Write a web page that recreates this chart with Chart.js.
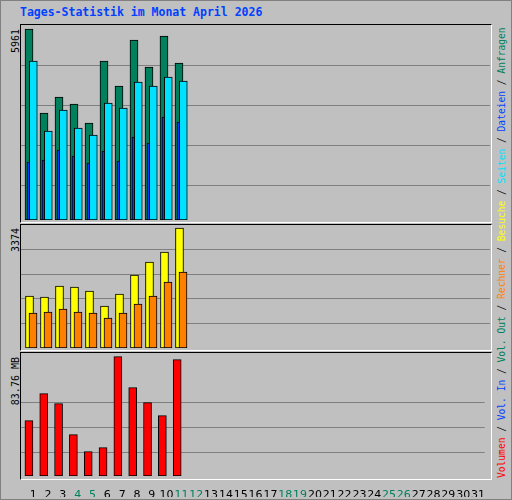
<!DOCTYPE html>
<html><head><meta charset="utf-8">
<script src="https://cdn.jsdelivr.net/npm/chart.js@4"></script>
<style>
body{margin:0;background:#c0c0c0;}
#frame{position:absolute;left:0;top:0;width:510px;height:498px;border:1px solid #808080;background:#c0c0c0;}
.panel{position:absolute;border-top:1px solid #000;border-left:1px solid #000;border-bottom:1px solid #fff;border-right:1px solid #fff;box-sizing:border-box;}
canvas{position:absolute;}
.rot{position:absolute;transform:rotate(-90deg);transform-origin:0 0;white-space:nowrap;font-family:'DejaVu Sans Mono',monospace;font-size:10px;line-height:10px;}
#title{position:absolute;left:20px;top:5px;font:bold 11.5px 'DejaVu Sans Mono',monospace;color:#0040ff;}
</style></head><body>
<div id="frame"></div>
<div id="title">Tages-Statistik im Monat April 2026</div>
<div class="panel" style="left:20px;top:24px;width:472px;height:199px"></div>
<div class="panel" style="left:20px;top:224px;width:472px;height:127px"></div>
<div class="panel" style="left:20px;top:352px;width:472px;height:128px"></div>
<canvas id="c1" style="left:21px;top:25px;width:469px;height:195px" width="469" height="195"></canvas>
<canvas id="c2" style="left:21px;top:225px;width:469px;height:123px" width="469" height="123"></canvas>
<canvas id="c3" style="left:21px;top:353px;width:469px;height:144px" width="469" height="144"></canvas>
<div class="rot" style="left:11px;top:89px;width:60px;text-align:right">5961</div>
<div class="rot" style="left:11px;top:288px;width:60px;text-align:right">3374</div>
<div class="rot" style="left:11px;top:417px;width:60px;text-align:right">83.76 MB</div>
<div class="rot" id="legend" style="left:497px;top:478px;font-size:9.6px"></div>
<script>
const days=[1,2,3,4,5,6,7,8,9,10,11,12,13,14,15,16,17,18,19,20,21,22,23,24,25,26,27,28,29,30,31];
const dayLabels=days.map(String);
const weekend=[4,5,11,12,18,19,25,26];
const hits=[5961,3339,3839,3620,3027,4962,4182,5618,4775,5742,4900];
const files=[4962,2778,3433,2871,2653,3652,3495,4307,4182,4463,4338];
const pages=[1810,1873,2185,1997,1779,2154,1841,2590,2403,3215,3059];
const visits=[1462,1434,1743,1715,1603,1181,1518,2053,2418,2699,3374];
const sites=[984,1012,1097,1012,984,844,984,1237,1462,1856,2137];
const volume=[38.9,57.8,50.8,29.0,17.1,19.9,83.76,62.0,51.5,42.4,81.7];
const grid1=[1083,2331,3580,4828], grid2=[675,1378,2081,2784], grid3=[16.4,34.0,51.5];

const legendParts=[["Volumen","#ff0000"],[" / ","#000"],["Vol. In","#0040ff"],[" / ","#000"],["Vol. Out","#00805c"],[" / ","#000"],["Rechner","#ff8000"],[" / ","#000"],["Besuche","#ffff00"],[" / ","#000"],["Seiten","#00e0ff"],[" / ","#000"],["Dateien","#0040ff"],[" / ","#000"],["Anfragen","#00805c"]];
document.getElementById('legend').innerHTML=legendParts.map(p=>`<span style="color:${p[1]}">${p[0]}</span>`).join('');

const xmin=0.18,xmax=31.45;
function ds(vals,off,color,th,order){return {data:vals.map((v,i)=>({x:days[i]+off/15,y:v})),backgroundColor:color,borderColor:'#000',borderWidth:1,borderSkipped:false,barThickness:th,order:order,grouped:false};}
function mk(id,datasets,max,grid,showX){
 const x={type:'linear',min:xmin,max:xmax,offset:false,display:showX,grid:{display:false},border:{display:false},
       afterBuildTicks:s=>{s.ticks=days.map(v=>({value:v}));},
       ticks:{padding:5,maxRotation:0,autoSkip:false,font:{family:'DejaVu Sans',size:11},
        color:c=>weekend.includes(c.tick.value)?'#00805c':'#000',
        callback:(v)=>dayLabels[days.indexOf(v)]}};
 if(showX) x.afterFit=s=>{s.height=21;};
 new Chart(document.getElementById(id),{type:'bar',data:{datasets},
  options:{responsive:false,animation:false,events:[],layout:{padding:0},
   plugins:{legend:{display:false},tooltip:{enabled:false}},
   scales:{x,
    y:{min:0,max:max,border:{display:false},grid:{color:'#7f7f7f',drawTicks:false,lineWidth:1},
       ticks:{display:false,padding:0},
       afterBuildTicks:s=>{s.ticks=grid.map(v=>({value:v}));},afterFit:s=>{s.width=0;}}
   }}});
}
mk('c1',[ds(hits,-4.3,'#00805c',8,3),ds(pages,-4.8,'#0040ff',3,2),ds(files,0,'#00e0ff',8,1)],6086,grid1,false);
mk('c2',[ds(visits,-3.8,'#ffff00',8,2),ds(sites,-0.3,'#ff8000',8,1)],3459,grid2,false);
mk('c3',[ds(volume,-4.3,'#ff0000',8,1)],86.3,grid3,true);
</script></body></html>
